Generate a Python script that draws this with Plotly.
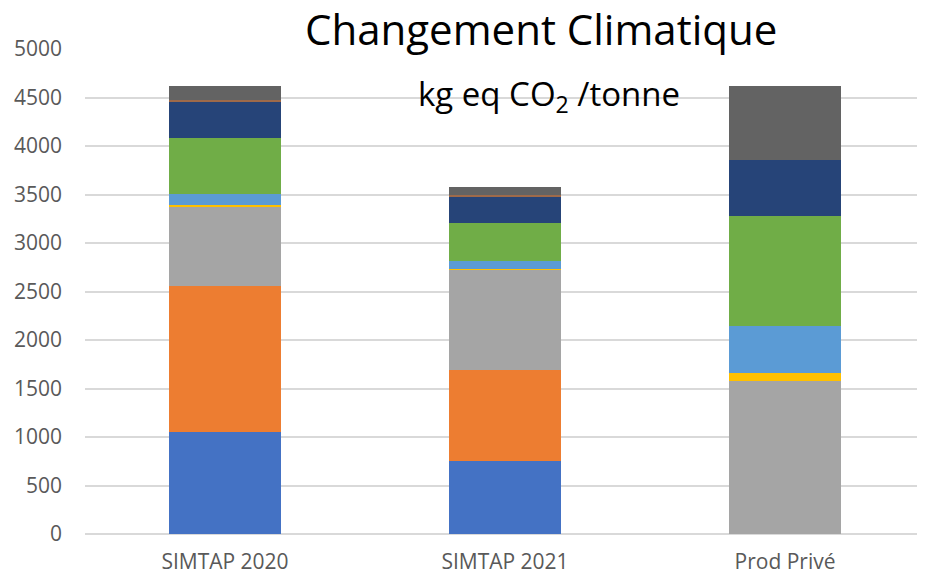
import plotly.graph_objects as go

categories = ["SIMTAP 2020", "SIMTAP 2021", "Prod Privé"]

series_names = ["Série 1", "Série 2", "Série 3", "Série 4", "Série 5",
                "Série 6", "Série 7", "Série 8", "Série 9"]
s1 = [1048, 750, 0]
s2 = [1506, 940, 0]
s3 = [814, 1035, 1577]
s4 = [24, 8, 86]
s5 = [113, 82, 482]
s6 = [575, 395, 1137]
s7 = [375, 265, 574]
s8 = [20, 15, 0]
s9 = [145, 90, 764]

y_ticks = [0, 500, 1000, 1500, 2000, 2500, 3000, 3500, 4000, 4500, 5000]

colors = ["#4472C4", "#ED7D31", "#A5A5A5", "#FFC000", "#5B9BD5",
          "#70AD47", "#264478", "#9E6A4A", "#636363"]

values = [s1, s2, s3, s4, s5, s6, s7, s8, s9]

fig = go.Figure()
for name, vals, col in zip(series_names, values, colors):
    fig.add_trace(go.Bar(x=categories, y=vals, name=name,
                         marker=dict(color=col, line=dict(width=0)),
                         width=0.4))

fig.update_layout(
    barmode="stack",
    width=925, height=574,
    margin=dict(l=77, r=8, t=41, b=48),
    plot_bgcolor="white", paper_bgcolor="white",
    showlegend=False,
    font=dict(family="Open Sans", color="#595959", size=21),
    xaxis=dict(showgrid=False, showline=False, automargin=False,
               tickfont=dict(size=21, color="#595959"),
               ticklabelstandoff=13),
    yaxis=dict(range=[0, 5000], tickvals=y_ticks, showgrid=True,
               automargin=False,
               gridcolor="#D9D9D9", gridwidth=1.5, zeroline=True,
               zerolinecolor="#D9D9D9", zerolinewidth=1.5,
               tickfont=dict(size=21, color="#595959"),
               ticklabelstandoff=22),
    annotations=[
        dict(text="Changement Climatique", x=0.543, y=1.043, xref="paper", yref="paper",
             xanchor="center", yanchor="middle", showarrow=False,
             font=dict(family="Open Sans", size=42, color="black")),
        dict(text="kg eq CO<sub>2</sub> /tonne", x=0.552, y=0.905, xref="paper", yref="paper",
             xanchor="center", yanchor="middle", showarrow=False,
             font=dict(family="Open Sans", size=33, color="black")),
    ],
)

fig.write_html("out.html")
